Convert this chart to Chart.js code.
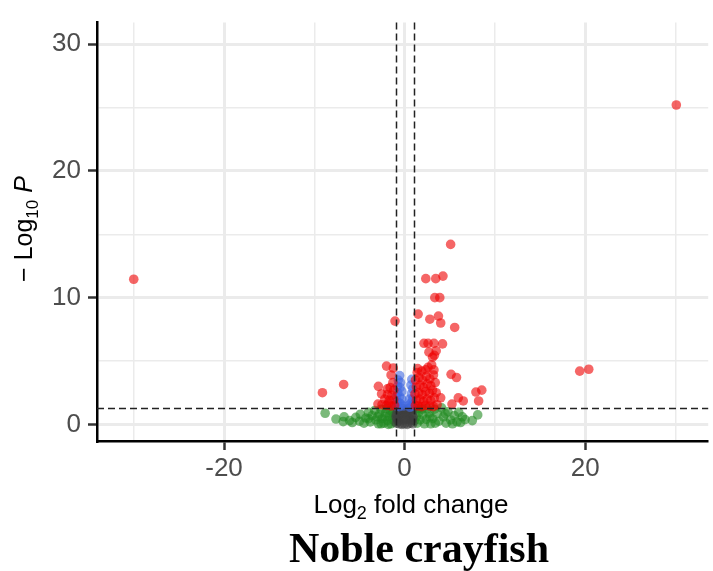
<!DOCTYPE html>
<html>
<head>
<meta charset="utf-8">
<script src="https://cdn.jsdelivr.net/npm/chart.js@4.4.1/dist/chart.umd.min.js"></script>
<style>
  html, body { margin: 0; padding: 0; background: #fff; }
</style>
</head>
<body>
<canvas id="canvas" width="713" height="571"></canvas>
<script>
// volcano plot: log2 fold change vs -log10 p, coloured by which cutoffs a gene passes
const fcCutoff = 1
const pCutoff = 0.05

const xTicks = [-30, -20, -10, 0, 10, 20, 30]
const xLabels = [-20, 0, 20]
const yTicks = [0, 5, 10, 15, 20, 25, 30]
const yLabels = [0, 10, 20, 30]

// not significant
const nsPoints = [
    [-0.9, 0.1], [-0.6, 0.05], [-0.3, 0.0], [0.0, 0.05], [0.3, 0.0], [0.6, 0.1], [0.9, 0.05],
    [-0.85, 0.45], [-0.5, 0.4], [-0.15, 0.35], [0.2, 0.4], [0.55, 0.45], [0.85, 0.4],
    [-0.9, 0.8], [-0.6, 0.75], [-0.25, 0.7], [0.1, 0.8], [0.45, 0.75], [0.8, 0.8],
    [-0.8, 1.15], [-0.45, 1.1], [-0.1, 1.05], [0.25, 1.15], [0.6, 1.1], [0.9, 1.2],
    [-0.7, 0.25], [0.7, 0.3], [-0.35, 0.9], [0.35, 0.95], [-0.95, 0.6], [0.95, 0.6],
    [0.0, 0.5], [-0.2, 1.25], [0.4, 1.25]
]

// log2 FC only
const fcPoints = [
    [-8.8, 0.88], [-7.6, 0.42], [-6.7, 0.6], [-6.8, 0.22], [-6.1, 0.3], [-5.8, 0.15], [-5.4, 0.55],
    [-5.0, 0.25], [-4.9, 0.8], [-4.5, 0.1], [-4.3, 0.5], [-4.0, 0.95], [-3.8, 0.2], [-3.6, 0.7],
    [-3.3, 1.1], [-3.2, 0.35], [-2.9, 0.05], [-2.8, 0.8], [-2.6, 1.2], [-2.5, 0.45], [-2.3, 0.1],
    [-2.1, 0.9], [-2.0, 1.25], [-1.9, 0.3], [-1.7, 0.65], [-1.6, 1.1], [-1.5, 0.05], [-1.35, 0.4],
    [-1.3, 0.9], [-1.15, 1.25], [-1.1, 0.2], [-1.2, 0.65], [-2.2, 0.6], [-3.0, 0.6], [-4.0, 0.45],
    [-1.8, 0.0], [-2.6, 0.05],
    [8.1, 0.75], [7.5, 0.3], [6.7, 0.38], [6.0, 0.95], [6.4, 0.6], [5.8, 0.2], [5.5, 0.7],
    [5.1, 0.35], [4.8, 1.0], [4.6, 0.1], [4.3, 0.6], [4.1, 1.3], [3.8, 0.25], [3.6, 0.85],
    [3.3, 1.2], [3.1, 0.45], [2.9, 0.05], [2.7, 0.9], [2.5, 1.25], [2.4, 0.4], [2.2, 0.05],
    [2.0, 0.75], [1.9, 1.2], [1.7, 0.35], [1.6, 0.95], [1.4, 0.1], [1.3, 0.6], [1.2, 1.2],
    [1.1, 0.3], [1.5, 1.25], [2.8, 0.6], [3.4, 0.1], [4.5, 0.85], [5.3, 0.05], [6.2, 0.15]
]

// p-value only
const pPoints = [
    [-0.55, 3.85], [-0.7, 3.5], [-0.45, 3.3], [-0.8, 3.0], [-0.5, 2.9], [-0.3, 2.6], [-0.75, 2.5],
    [-0.9, 2.2], [-0.55, 2.2], [-0.3, 2.0], [-0.85, 1.8], [-0.6, 1.7], [-0.35, 1.6], [-0.15, 1.45],
    [-0.9, 1.45], [-0.6, 1.4],
    [0.8, 3.55], [0.7, 3.1], [0.9, 2.8], [0.75, 2.4], [0.55, 2.0], [0.9, 2.0], [0.7, 1.7],
    [0.45, 1.5], [0.85, 1.45], [0.6, 1.35]
]

// p-value and log2 FC
const bothPoints = [
    [-30.0, 11.45], [-9.1, 2.5], [-6.75, 3.15], [-1.06, 8.15], [-2.0, 4.6], [-1.25, 4.45],
    [-1.5, 3.9], [-2.9, 3.0], [-2.55, 2.4], [-1.9, 2.35], [-2.95, 1.6],
    [-1.3, 3.3], [-1.6, 2.9], [-1.2, 2.7], [-1.9, 2.8], [-1.4, 2.3], [-2.2, 2.0], [-1.7, 1.9],
    [-1.2, 1.95], [-2.5, 1.55], [-2.0, 1.5], [-1.5, 1.45], [-1.1, 1.5], [-1.8, 1.65],
    [5.1, 14.2], [2.35, 11.5], [3.45, 11.5], [4.25, 11.7], [3.35, 10.0], [3.9, 10.0],
    [1.5, 8.7], [2.8, 8.3], [3.75, 8.55], [4.0, 8.0], [5.55, 7.65],
    [2.15, 6.4], [2.6, 6.4], [3.25, 6.4], [4.2, 6.35], [2.7, 5.7], [3.3, 5.45], [3.5, 5.8], [3.1, 5.3],
    [1.45, 4.4], [2.35, 4.3], [3.25, 4.3], [5.15, 3.95], [5.75, 3.7], [4.0, 2.1], [5.95, 2.1],
    [6.5, 1.85], [5.25, 1.6], [7.9, 2.55], [8.55, 2.7], [8.2, 1.85],
    [1.2, 1.5], [1.5, 1.45], [1.9, 1.4], [2.3, 1.5], [2.8, 1.45], [3.2, 1.4], [3.6, 1.55],
    [1.3, 1.9], [1.7, 2.0], [2.1, 1.85], [2.5, 2.0], [2.9, 1.9], [3.3, 2.1],
    [1.15, 2.4], [1.55, 2.5], [1.95, 2.35], [2.35, 2.6], [2.75, 2.45], [3.1, 2.7], [3.5, 2.5],
    [1.3, 2.95], [1.7, 3.1], [2.1, 2.9], [2.5, 3.2], [2.9, 3.05], [3.4, 3.3],
    [1.2, 3.5], [1.6, 3.7], [2.0, 3.5], [2.4, 3.8], [2.8, 3.6], [3.2, 3.9],
    [1.4, 4.1], [1.9, 4.2], [2.6, 4.5], [3.0, 4.7],
    [19.4, 4.2], [20.4, 4.35], [30.1, 25.2]
]

const toXY = (pts) => pts.map(([x, y]) => ({ x, y }))

const sans = "'Liberation Sans', Arial, Helvetica, sans-serif"

function drawRich(ctx, parts, cx, baseline) {
    let width = 0
    for (const p of parts) {
        ctx.font = p.font
        width += ctx.measureText(p.text).width
    }
    let x = cx - width / 2
    ctx.textAlign = 'left'
    ctx.textBaseline = 'alphabetic'
    for (const p of parts) {
        ctx.font = p.font
        ctx.fillText(p.text, x, baseline + (p.dy || 0))
        x += ctx.measureText(p.text).width
    }
}

const cutoffLines = {
    id: 'cutoffLines',
    afterDatasetsDraw(chart) {
        const { ctx, chartArea: a, scales: { x, y } } = chart
        ctx.save()
        ctx.strokeStyle = '#222'
        ctx.lineWidth = 1.5
        ctx.setLineDash([7, 4])
        ctx.beginPath()
        for (const v of [-fcCutoff, fcCutoff]) {
            const px = Math.round(x.getPixelForValue(v)) + 0.5
            ctx.moveTo(px, a.top)
            ctx.lineTo(px, a.bottom)
        }
        const py = Math.round(y.getPixelForValue(-Math.log10(pCutoff))) + 0.5
        ctx.moveTo(a.left, py)
        ctx.lineTo(a.right, py)
        ctx.stroke()
        ctx.restore()
    }
}

const titles = {
    id: 'titles',
    afterDraw(chart) {
        const { ctx } = chart
        ctx.save()
        ctx.fillStyle = '#000'
        drawRich(ctx, [
            { text: 'Log', font: `26px ${sans}` },
            { text: '2', font: `18px ${sans}`, dy: 6 },
            { text: ' fold change', font: `26px ${sans}` },
        ], 411, 513)

        ctx.font = "bold 42px 'Liberation Serif', 'Times New Roman', serif"
        ctx.textAlign = 'center'
        ctx.textBaseline = 'alphabetic'
        ctx.fillText('Noble crayfish', 419, 562)

        ctx.translate(32, 229)
        ctx.rotate(-Math.PI / 2)
        drawRich(ctx, [
            { text: '\u2212 Log', font: `25px ${sans}` },
            { text: '10', font: `17px ${sans}`, dy: 6 },
            { text: ' ', font: `25px ${sans}` },
            { text: 'P', font: `italic 25px ${sans}` },
        ], 0, 0)
        ctx.restore()
    }
}

const dot = {
    pointRadius: 4.8,
    pointHoverRadius: 4.8,
    borderWidth: 0,
}

new Chart(document.getElementById('canvas'), {
    type: 'scatter',
    data: {
        datasets: [
            { label: 'p-value and log2 FC', data: toXY(bothPoints), backgroundColor: 'rgba(238, 0, 0, 0.6)', order: 0, ...dot },
            { label: 'p-value', data: toXY(pPoints), backgroundColor: 'rgba(65, 105, 225, 0.6)', order: 1, ...dot },
            { label: 'NS', data: toXY(nsPoints), backgroundColor: 'rgba(64, 64, 64, 0.6)', order: 2, ...dot },
            { label: 'Log2 FC', data: toXY(fcPoints), backgroundColor: 'rgba(34, 139, 34, 0.6)', order: 3, ...dot },
        ],
    },
    options: {
        responsive: false,
        animation: false,
        layout: { padding: { top: 12, left: 0, right: 0, bottom: 0 } },
        plugins: {
            legend: { display: false },
            tooltip: { enabled: false },
        },
        scales: {
            x: {
                type: 'linear',
                min: -34.07,
                max: 33.63,
                afterBuildTicks: (s) => { s.ticks = xTicks.map(v => ({ value: v })) },
                afterFit: (s) => { s.height = 130 },
                ticks: {
                    callback: (v) => xLabels.includes(v) ? String(v) : '',
                    color: '#4d4d4d',
                    font: { size: 26, family: sans },
                    padding: 3,
                    maxRotation: 0,
                    autoSkip: false,
                },
                grid: {
                    color: '#ebebeb',
                    lineWidth: (c) => xLabels.includes(c.tick.value) ? 3 : 1.5,
                    tickColor: (c) => xLabels.includes(c.tick.value) ? '#333' : 'rgba(0,0,0,0)',
                    tickLength: 9,
                    tickWidth: 2.5,
                },
                border: { color: '#000', width: 2.5 },
            },
            y: {
                type: 'linear',
                min: -1.31,
                max: 31.7,
                afterBuildTicks: (s) => { s.ticks = yTicks.map(v => ({ value: v })) },
                afterFit: (s) => { s.width = 97 },
                ticks: {
                    callback: (v) => yLabels.includes(v) ? String(v) : '',
                    color: '#4d4d4d',
                    font: { size: 26, family: sans },
                    padding: 7,
                    autoSkip: false,
                },
                grid: {
                    color: '#ebebeb',
                    lineWidth: (c) => yLabels.includes(c.tick.value) ? 3 : 1.5,
                    tickColor: (c) => yLabels.includes(c.tick.value) ? '#333' : 'rgba(0,0,0,0)',
                    tickLength: 9,
                    tickWidth: 2.5,
                },
                border: { color: '#000', width: 2.5 },
            },
        },
    },
    plugins: [cutoffLines, titles],
});
</script>
</body>
</html>
